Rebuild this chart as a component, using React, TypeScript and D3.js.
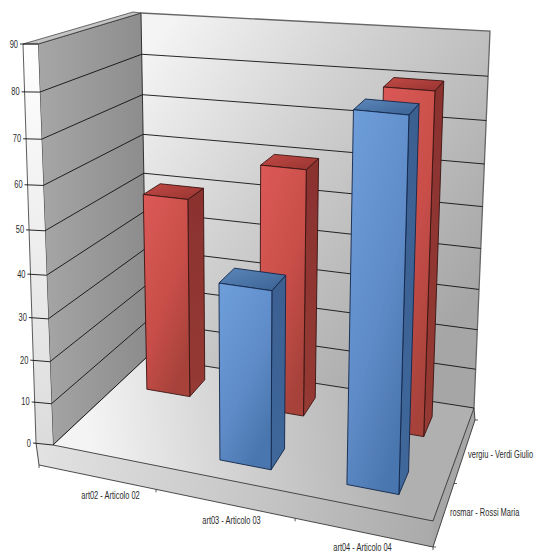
import React from "react";
import * as d3 from "d3";

const categories = ["art02 - Articolo 02", "art03 - Articolo 03", "art04 - Articolo 04"];
const seriesNames = ["rosmar - Rossi Maria", "vergiu - Verdi Giulio"];
const rosmarValues = [null, 41, 81];
const vergiuValues = [50, 60, 80];
const yTicks = [0, 10, 20, 30, 40, 50, 60, 70, 80, 90];

type P = [number, number];
// box corners in screen space: front/back, left/right, bottom/top
const FLB: P = [53, 445], FRB: P = [433, 521], BLB: P = [147, 357], BRB: P = [474, 408];
const FLT: P = [38, 44], FRT: P = [447, 81], BLT: P = [141, 13], BRT: P = [490, 31];

const perspective = 1.09;
const yLinear = d3.scaleLinear().domain([0, 90]).range([0, 1]);
const yScale = (v: number) => {
  const t = yLinear(v);
  return t / (t + (1 - t) * perspective);
};
const xCenter = d3.scaleOrdinal<string, number>().domain(categories).range([0.147, 0.477, 0.82]);
const zCenter = d3.scaleOrdinal<string, number>().domain(seriesNames).range([0.267, 0.78]);
const zHalf = d3.scaleOrdinal<string, number>().domain(seriesNames).range([0.103, 0.09]);
const blueHalf = d3.scaleOrdinal<string, number>().domain(categories).range([0.07, 0.069, 0.07]);
const redHalf = d3.scaleOrdinal<string, number>().domain(categories).range([0.0625, 0.0635, 0.0705]);

const mix = (a: P, b: P, t: number): P => [a[0] + (b[0] - a[0]) * t, a[1] + (b[1] - a[1]) * t];
const project = (u: number, v: number, w: number): P => {
  const t = yScale(v);
  const bottom = mix(mix(FLB, FRB, u), mix(BLB, BRB, u), w);
  const top = mix(mix(FLT, FRT, u), mix(BLT, BRT, u), w);
  return mix(bottom, top, t);
};
const path = d3.line<P>().x((d) => d[0]).y((d) => d[1]);
const poly = (pts: P[]) => path(pts) + "Z";

// outer edge of the left wall
const outer = (v: number): P => mix([36, 443], [23, 44], yScale(v));

const seriesStyle: Record<string, { front: string; side: string; top: string; stroke: string }> = {
  [seriesNames[0]]: { front: "url(#blueFront)", side: "url(#blueSide)", top: "url(#blueTop)", stroke: "#12264a" },
  [seriesNames[1]]: { front: "url(#redFront)", side: "url(#redSide)", top: "url(#redTop)", stroke: "#3a1412" },
};

function Bar({ cat, series, value }: { cat: string; series: string; value: number }) {
  const half = series === seriesNames[0] ? blueHalf(cat) : redHalf(cat);
  const u0 = xCenter(cat) - half, u1 = xCenter(cat) + half;
  const w0 = zCenter(series) - zHalf(series), w1 = zCenter(series) + zHalf(series);
  const s = seriesStyle[series];
  const fb0 = project(u0, 0, w0), fb1 = project(u1, 0, w0), bb1 = project(u1, 0, w1);
  const ft0 = project(u0, value, w0), ft1 = project(u1, value, w0), bt1 = project(u1, value, w1), bt0 = project(u0, value, w1);
  return (
    <g stroke={s.stroke} strokeWidth={0.9} strokeLinejoin="round">
      <path d={poly([fb1, bb1, bt1, ft1])} fill={s.side} />
      <path d={poly([ft0, ft1, bt1, bt0])} fill={s.top} />
      <path d={poly([fb0, fb1, ft1, ft0])} fill={s.front} />
    </g>
  );
}

const labelFont = "'Liberation Sans',sans-serif";
const narrow = 0.68;
const catLabelPos: P[] = [[110.5, 499], [231.5, 524], [362.5, 551]];
const seriesLabelPos: P[] = [[450, 513], [468, 455]];
const baseFrontLeft: P = [39, 465], baseFrontRight: P = [433, 547], baseBackRight: P = [475, 420], floorLeftOuter: P = [36, 443];

export default function App() {
  const bars: { cat: string; series: string; value: number }[] = [];
  categories.forEach((c, i) => { bars.push({ cat: c, series: seriesNames[1], value: vergiuValues[i] }); });
  categories.forEach((c, i) => { const v = rosmarValues[i]; if (v != null) bars.push({ cat: c, series: seriesNames[0], value: v }); });
  const xTickU = [0, 0.297, 0.65, 1];
  return (
    <svg width={534} height={555} style={{ position: "absolute", left: 0, top: 0, background: "#fff" }}>
      <defs>
        <linearGradient id="backWall" gradientUnits="userSpaceOnUse" x1={141} y1={60} x2={470} y2={300}>
          <stop offset="0" stopColor="#f4f4f4" /><stop offset="0.45" stopColor="#cecece" /><stop offset="1" stopColor="#a6a6a6" />
        </linearGradient>
        <linearGradient id="leftWall" gradientUnits="userSpaceOnUse" x1={40} y1={0} x2={147} y2={0}>
          <stop offset="0" stopColor="#a6a6a6" /><stop offset="1" stopColor="#8c8c8c" />
        </linearGradient>
        <linearGradient id="leftFront" gradientUnits="userSpaceOnUse" x1={25} y1={40} x2={45} y2={440}>
          <stop offset="0" stopColor="#ffffff" /><stop offset="1" stopColor="#dcdcdc" />
        </linearGradient>
        <linearGradient id="floor" gradientUnits="userSpaceOnUse" x1={90} y1={450} x2={400} y2={420}>
          <stop offset="0" stopColor="#f4f4f4" /><stop offset="0.5" stopColor="#cfcfcf" /><stop offset="1" stopColor="#b0b0b0" />
        </linearGradient>
        <linearGradient id="baseFront" gradientUnits="userSpaceOnUse" x1={40} y1={450} x2={433} y2={530}>
          <stop offset="0" stopColor="#e2e2e2" /><stop offset="0.55" stopColor="#c6c6c6" /><stop offset="1" stopColor="#aaaaaa" />
        </linearGradient>
        <linearGradient id="redFront" x1="0" y1="0" x2="0.6" y2="1">
          <stop offset="0" stopColor="#dc5a57" /><stop offset="0.6" stopColor="#c84e49" /><stop offset="1" stopColor="#a7423b" />
        </linearGradient>
        <linearGradient id="redSide" x1="0" y1="0" x2="0" y2="1">
          <stop offset="0" stopColor="#8a322f" /><stop offset="1" stopColor="#963a34" />
        </linearGradient>
        <linearGradient id="redTop" x1="0" y1="0" x2="1" y2="1">
          <stop offset="0" stopColor="#c24a46" /><stop offset="1" stopColor="#96332f" />
        </linearGradient>
        <linearGradient id="blueFront" x1="0" y1="0" x2="0.6" y2="1">
          <stop offset="0" stopColor="#6f9fdb" /><stop offset="0.6" stopColor="#5f8cc8" /><stop offset="1" stopColor="#4a76ae" />
        </linearGradient>
        <linearGradient id="blueSide" x1="0" y1="0" x2="0" y2="1">
          <stop offset="0" stopColor="#3b6090" /><stop offset="1" stopColor="#3f679b" />
        </linearGradient>
        <linearGradient id="blueTop" x1="0" y1="0" x2="1" y2="1">
          <stop offset="0" stopColor="#5c86bb" /><stop offset="1" stopColor="#3a6292" />
        </linearGradient>
        <filter id="soft" x="-2%" y="-2%" width="104%" height="104%">
          <feGaussianBlur stdDeviation="0.35" />
        </filter>
      </defs>
      <g filter="url(#soft)">
        {/* walls */}
        <path d={poly([BLB, BRB, BRT, BLT])} fill="url(#backWall)" />
        <path d={poly([FLB, BLB, BLT, FLT])} fill="url(#leftWall)" stroke="#222" strokeWidth={0.9} />
        <path d={poly([floorLeftOuter, FLB, FLT, [23, 44]])} fill="url(#leftFront)" />
        <path d={poly([[23, 44], FLT, BLT, [133, 12]])} fill="#c4c4c4" stroke="#333" strokeWidth={0.7} />
        <path d={path([[23, 44], floorLeftOuter])!} stroke="#333" strokeWidth={0.8} fill="none" />
        {/* floor and base */}
        <path d={poly([FLB, FRB, BRB, BLB])} fill="url(#floor)" />
        <path d={poly([floorLeftOuter, FLB, FRB, baseFrontRight, baseFrontLeft])} fill="url(#baseFront)" />
        <path d={poly([FRB, BRB, baseBackRight, baseFrontRight])} fill="#a6a6a6" />
        <path d={path([floorLeftOuter, baseFrontLeft, baseFrontRight, baseBackRight, BRB, FRB, FLB])!} fill="none" stroke="#222" strokeWidth={0.8} />
        <path d={path([BLT, BRT, BRB])!} fill="none" stroke="#666" strokeWidth={1.3} />
        {/* gridlines */}
        {yTicks.map((v) => (
          <g key={v} fill="none" stroke="#111" strokeWidth={0.9}>
            {v < 90 && <path d={path([project(0, v, 1), project(1, v, 1)])!} />}
            {v < 90 && <path d={path([project(0, v, 0), project(0, v, 1)])!} />}
            <path d={path([[outer(v)[0] - 3, outer(v)[1]], project(0, v, 0)])!} />
          </g>
        ))}
        {/* axis ticks */}
        {xTickU.map((u) => {
          const p = mix(baseFrontLeft, baseFrontRight, u);
          return <path key={u} d={path([p, [p[0], p[1] + 3]])!} stroke="#333" strokeWidth={0.8} />;
        })}
        {[0, 0.5, 1].map((t) => {
          const p = mix(baseFrontRight, baseBackRight, t);
          return <path key={t} d={path([p, [p[0] + 3, p[1]]])!} stroke="#333" strokeWidth={0.8} />;
        })}
        {/* bars */}
        {bars.map((b) => <Bar key={b.cat + b.series} {...b} />)}
      </g>
      <g fontFamily={labelFont} fontSize={11} fill="#2a2a2a">
        {yTicks.map((v) => (
          <text key={v} transform={`translate(${outer(v)[0] - 5},${outer(v)[1] + 3.5}) scale(${narrow},1)`} textAnchor="end">{v}</text>
        ))}
        {categories.map((c, i) => (
          <text key={c} transform={`translate(${catLabelPos[i][0]},${catLabelPos[i][1]}) scale(${narrow},1)`} textAnchor="middle">{c}</text>
        ))}
        {seriesNames.map((s, i) => (
          <text key={s} transform={`translate(${seriesLabelPos[i][0]},${seriesLabelPos[i][1] + 3}) scale(${narrow},1)`}>{s}</text>
        ))}
      </g>
    </svg>
  );
}
